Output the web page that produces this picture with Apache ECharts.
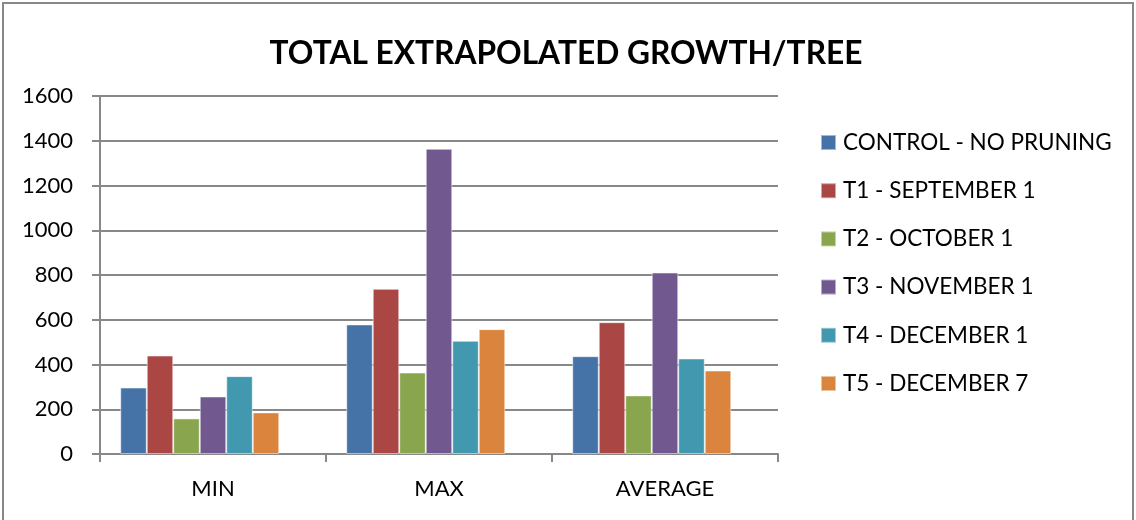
<!DOCTYPE html>
<html><head><meta charset="utf-8">
<script src="https://cdn.jsdelivr.net/npm/echarts@6/dist/echarts.min.js"></script>
<style>html,body{margin:0;padding:0;background:#fff}#c{width:1136px;height:520px}</style>
</head><body><div id="c"></div>
<script>
const categories = ["MIN", "MAX", "AVERAGE"];
const seriesNames = ["CONTROL - NO PRUNING", "T1 - SEPTEMBER 1", "T2 - OCTOBER 1", "T3 - NOVEMBER 1", "T4 - DECEMBER 1", "T5 - DECEMBER 7"];
const control = [297, 579, 437];
const t1 = [440, 738, 589];
const t2 = [159, 364, 262];
const t3 = [257, 1364, 811];
const t4 = [348, 506, 427];
const t5 = [186, 558, 373];
const yTicks = [0, 200, 400, 600, 800, 1000, 1200, 1400, 1600];
const colors = ["#4572A7", "#AA4643", "#89A54E", "#71588F", "#4198AF", "#DB843D"];

const allData = [control, t1, t2, t3, t4, t5];
const FONT = "Lato";
const chart = echarts.init(document.getElementById('c'));
const series = seriesNames.map((n, i) => ({
  name: n, type: 'bar', data: allData[i], barWidth: 26.5, barGap: '0%',
  itemStyle: { color: colors[i], borderColor: 'rgba(255,255,255,0.5)', borderWidth: 1 }
}));
// empty slot (Excel-style group offset), no marks drawn
series.push({ name: '_slot', type: 'bar', data: [null, null, null], barWidth: 26.5, barGap: '0%', silent: true });
chart.setOption({
  animation: false,
  color: colors,
  title: {
    text: "TOTAL EXTRAPOLATED GROWTH/TREE",
    left: 561, top: 33, textAlign: 'center',
    textStyle: { fontFamily: FONT, fontWeight: 'bold', fontSize: 31.7, color: '#000' }
  },
  graphic: [{ type: 'rect', shape: { x: 3, y: 3, width: 1130, height: 530 }, style: { fill: 'none', stroke: '#888', lineWidth: 2 }, silent: true }],
  legend: {
    orient: 'vertical', left: 815, top: 126, itemWidth: 15, itemHeight: 15, itemGap: 25.2,
    icon: 'rect',
    textStyle: { fontFamily: FONT, fontSize: 22.5, color: '#000', padding: [0, 0, 0, 2] },
    data: seriesNames
  },
  grid: { left: 100, right: 358, top: 96, bottom: 66, containLabel: false },
  xAxis: {
    type: 'category', data: categories,
    axisLine: { lineStyle: { color: '#888', width: 2 } },
    axisTick: { show: true, length: 8, lineStyle: { color: '#888', width: 2 } },
    axisLabel: { fontFamily: FONT, fontSize: 22, color: '#000', margin: 24 }
  },
  yAxis: {
    type: 'value', min: yTicks[0], max: yTicks[yTicks.length - 1], interval: 200,
    axisLine: { show: true, lineStyle: { color: '#888', width: 2 } },
    axisTick: { show: true, length: 8, lineStyle: { color: '#888', width: 2 } },
    splitLine: { lineStyle: { color: '#888', width: 2 } },
    axisLabel: { fontFamily: FONT, fontSize: 22, color: '#000', margin: 27, formatter: v => String(v) }
  },
  series: series
});
</script></body></html>
